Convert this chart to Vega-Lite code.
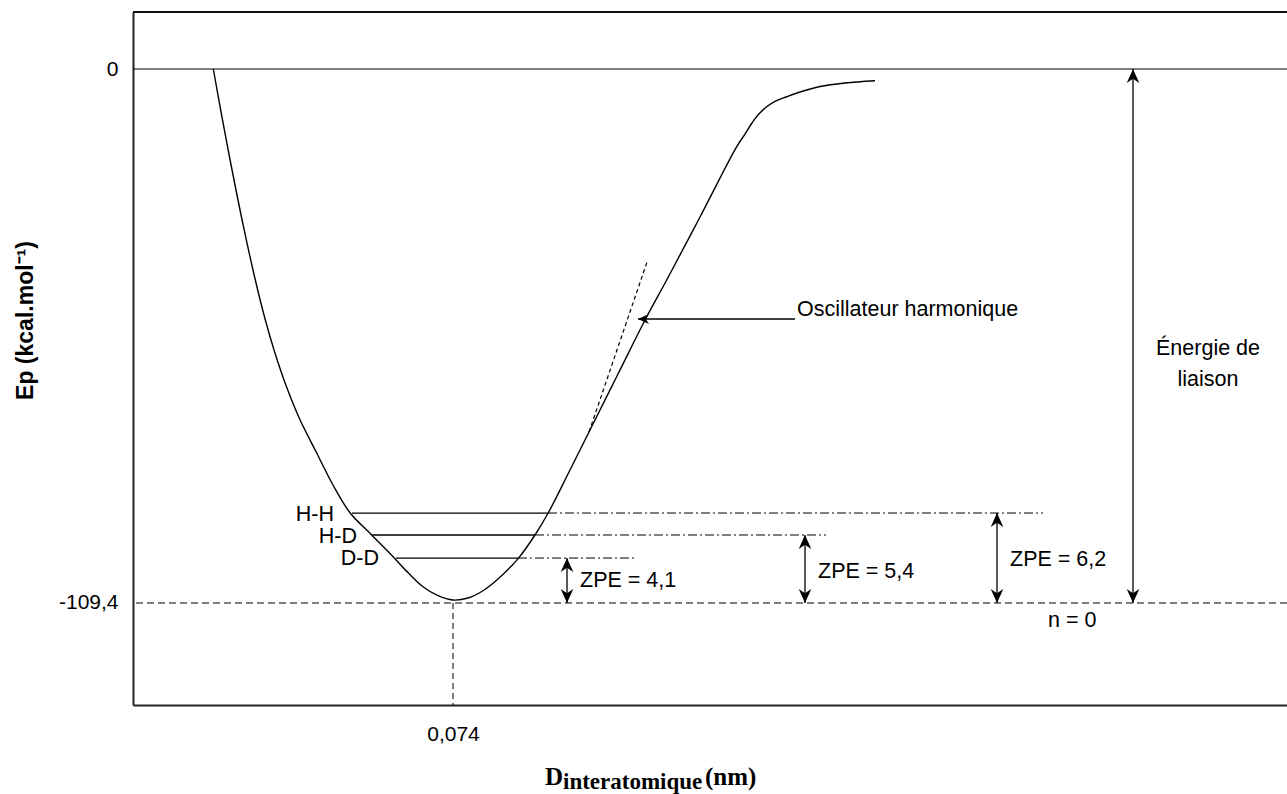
{
  "$schema": "https://vega.github.io/schema/vega-lite/v6.json",
  "autosize": "none",
  "padding": {"left": 133, "top": 12, "right": 0, "bottom": 89},
  "width": 1154,
  "height": 693,
  "background": "white",
  "config": {
    "view": {"stroke": null},
    "font": "Liberation Sans",
    "axis": {"ticks": false, "grid": false, "domainColor": "#222", "domainWidth": 2, "labelFont": "Liberation Sans", "labelFontSize": 21, "labelColor": "#000", "titleColor": "#000"}
  },
  "layer": [
    {
      "data": {"values": [
        {"x": 0.018569, "y": 0}, {"x": 0.020489, "y": -9.424}, {"x": 0.022454, "y": -18.644}, {"x": 0.025553, "y": -32.31},
        {"x": 0.028259, "y": -43.13}, {"x": 0.030571, "y": -51.32}, {"x": 0.032791, "y": -58.08}, {"x": 0.035473, "y": -65.05},
        {"x": 0.038594, "y": -71.81}, {"x": 0.042481, "y": -78.67}, {"x": 0.046250, "y": -85.23}, {"x": 0.050181, "y": -90.91},
        {"x": 0.055199, "y": -95.47}, {"x": 0.060356, "y": -100.12}, {"x": 0.063594, "y": -103.17}, {"x": 0.067063, "y": -106.07},
        {"x": 0.070531, "y": -107.91}, {"x": 0.074, "y": -108.79}, {"x": 0.077469, "y": -108.38}, {"x": 0.080938, "y": -106.89},
        {"x": 0.084406, "y": -104.50}, {"x": 0.089101, "y": -100.25}, {"x": 0.092963, "y": -95.47}, {"x": 0.096038, "y": -90.91},
        {"x": 0.100594, "y": -82.98}, {"x": 0.105681, "y": -73.96}, {"x": 0.112156, "y": -62.49}, {"x": 0.118793, "y": -50.75},
        {"x": 0.123418, "y": -43.23}, {"x": 0.131119, "y": -30.32}, {"x": 0.139606, "y": -15.92}, {"x": 0.141519, "y": -13.32},
        {"x": 0.143138, "y": -11.06}, {"x": 0.144525, "y": -9.43}, {"x": 0.146543, "y": -7.72}, {"x": 0.148463, "y": -6.62},
        {"x": 0.151168, "y": -5.68}, {"x": 0.154244, "y": -4.71}, {"x": 0.158869, "y": -3.59}, {"x": 0.164650, "y": -2.87},
        {"x": 0.171588, "y": -2.40}
      ]},
      "mark": {"type": "line", "interpolate": "catmull-rom", "color": "#000", "strokeWidth": 1.4},
      "encoding": {
        "x": {"field": "x", "type": "quantitative",
          "scale": {"domain": [0, 0.26686], "nice": false, "zero": false},
          "axis": {"values": [0.074], "labelExpr": "'0,074'", "title": null, "labelPadding": 18}},
        "y": {"field": "y", "type": "quantitative",
          "scale": {"domain": [-130.30, 11.678], "nice": false, "zero": false},
          "axis": {"values": [0, -109.4], "labelExpr": "datum.value == 0 ? '0' : '-109,4'", "labelPadding": 15,
            "title": "Ep (kcal.mol⁻¹)", "titleFont": "Liberation Sans", "titleFontWeight": "bold", "titleFontSize": 23,
            "titleX": -108, "titleY": 308, "titleAngle": -90, "titleAlign": "center", "titleBaseline": "middle"}}
      }
    },
    {
      "data": {"values": [{"x": 0.10545, "y": -74.37}, {"x": 0.118863, "y": -39.54}]},
      "mark": {"type": "line", "color": "#000", "strokeWidth": 1.2, "strokeDash": [4, 3]},
      "encoding": {"x": {"field": "x", "type": "quantitative"}, "y": {"field": "y", "type": "quantitative"}}
    },
    {
      "data": {"values": [
        {"level": "H-H", "x": 0.050644, "x2": 0.095969, "y": -90.97},
        {"level": "H-D", "x": 0.055269, "x2": 0.092963, "y": -95.47},
        {"level": "D-D", "x": 0.060819, "x2": 0.089031, "y": -100.19}
      ]},
      "mark": {"type": "rule", "color": "#000", "strokeWidth": 1.3},
      "encoding": {"x": {"field": "x", "type": "quantitative"}, "x2": {"field": "x2"}, "y": {"field": "y", "type": "quantitative"}}
    },
    {
      "data": {"values": [
        {"level": "H-H", "x": 0.095969, "x2": 0.210438, "y": -90.97},
        {"level": "H-D", "x": 0.092963, "x2": 0.160256, "y": -95.47},
        {"level": "D-D", "x": 0.089031, "x2": 0.116319, "y": -100.19}
      ]},
      "mark": {"type": "rule", "color": "#000", "strokeWidth": 1, "strokeDash": [9, 3, 2, 3]},
      "encoding": {"x": {"field": "x", "type": "quantitative"}, "x2": {"field": "x2"}, "y": {"field": "y", "type": "quantitative"}}
    },
    {
      "data": {"values": [{"y": -109.4}]},
      "mark": {"type": "rule", "color": "#000", "strokeWidth": 1, "strokeDash": [7, 4]},
      "encoding": {"y": {"field": "y", "type": "quantitative"}}
    },
    {
      "data": {"values": [{"x": 0.074, "y": -109.4, "y2": -130.30}]},
      "mark": {"type": "rule", "color": "#000", "strokeWidth": 1, "strokeDash": [6, 4]},
      "encoding": {"x": {"field": "x", "type": "quantitative"}, "y": {"field": "y", "type": "quantitative"}, "y2": {"field": "y2"}}
    },
    {
      "data": {"values": [{"line": "zero", "y": 0}]},
      "mark": {"type": "rule", "color": "#000", "strokeWidth": 1.1},
      "encoding": {"y": {"field": "y", "type": "quantitative"}}
    },
    {
      "data": {"values": [{"line": "frame", "y": 11.678}]},
      "mark": {"type": "rule", "color": "#111", "strokeWidth": 2},
      "encoding": {"y": {"field": "y", "type": "quantitative"}}
    },
    {
      "data": {"values": [
        {"name": "ZPE 4,1", "x": 0.100363, "y": -100.19, "y2": -109.4},
        {"name": "ZPE 5,4", "x": 0.1554, "y": -95.47, "y2": -109.4},
        {"name": "ZPE 6,2", "x": 0.1998, "y": -90.97, "y2": -109.4},
        {"name": "liaison", "x": 0.23125, "y": 0, "y2": -109.4}
      ]},
      "mark": {"type": "rule", "color": "#000", "strokeWidth": 1.3},
      "encoding": {"x": {"field": "x", "type": "quantitative"}, "y": {"field": "y", "type": "quantitative"}, "y2": {"field": "y2"}}
    },
    {
      "data": {"values": [{"x": 0.116781, "x2": 0.153088, "y": -51.22}]},
      "mark": {"type": "rule", "color": "#000", "strokeWidth": 1.3},
      "encoding": {"x": {"field": "x", "type": "quantitative"}, "x2": {"field": "x2"}, "y": {"field": "y", "type": "quantitative"}}
    },
    {
      "data": {"values": [
        {"x": 0.100363, "y": -100.19, "dir": "up"}, {"x": 0.100363, "y": -109.4, "dir": "down"},
        {"x": 0.1554, "y": -95.47, "dir": "up"}, {"x": 0.1554, "y": -109.4, "dir": "down"},
        {"x": 0.1998, "y": -90.97, "dir": "up"}, {"x": 0.1998, "y": -109.4, "dir": "down"},
        {"x": 0.23125, "y": 0, "dir": "up"}, {"x": 0.23125, "y": -109.4, "dir": "down"}
      ]},
      "mark": {"type": "point", "filled": true, "color": "#000", "opacity": 1, "size": 784, "strokeWidth": 0},
      "encoding": {
        "x": {"field": "x", "type": "quantitative"},
        "y": {"field": "y", "type": "quantitative"},
        "shape": {"field": "dir", "type": "nominal", "legend": null,
          "scale": {"domain": ["up", "down"], "range": ["M0,0L0.45,1L0,0.7L-0.45,1Z", "M0,0L0.45,-1L0,-0.7L-0.45,-1Z"]}}
      }
    },
    {
      "data": {"values": [{"x": 0.116781, "y": -51.22}]},
      "mark": {"type": "point", "filled": true, "color": "#000", "opacity": 1, "size": 484, "strokeWidth": 0, "shape": "M0,0L1,0.45L0.7,0L1,-0.45Z"},
      "encoding": {"x": {"field": "x", "type": "quantitative"}, "y": {"field": "y", "type": "quantitative"}}
    },
    {
      "data": {"values": [
        {"label": "ZPE = 4,1", "x": 0.103369, "y": -104.90},
        {"label": "ZPE = 5,4", "x": 0.158406, "y": -103.05},
        {"label": "ZPE = 6,2", "x": 0.202806, "y": -100.60},
        {"label": "n = 0", "x": 0.211594, "y": -113.09},
        {"label": "Oscillateur harmonique", "x": 0.15355, "y": -49.38}
      ]},
      "mark": {"type": "text", "align": "left", "baseline": "middle", "font": "Liberation Sans", "fontSize": 21.5, "color": "#000"},
      "encoding": {"x": {"field": "x", "type": "quantitative"}, "y": {"field": "y", "type": "quantitative"}, "text": {"field": "label"}}
    },
    {
      "data": {"values": [
        {"label": "H-H", "x": 0.046481, "y": -91.38},
        {"label": "H-D", "x": 0.0518, "y": -95.78},
        {"label": "D-D", "x": 0.056888, "y": -100.39}
      ]},
      "mark": {"type": "text", "align": "right", "baseline": "middle", "font": "Liberation Sans", "fontSize": 21.5, "color": "#000"},
      "encoding": {"x": {"field": "x", "type": "quantitative"}, "y": {"field": "y", "type": "quantitative"}, "text": {"field": "label"}}
    },
    {
      "data": {"values": [
        {"label": "Énergie de", "x": 0.248594, "y": -57.37},
        {"label": "liaison", "x": 0.248594, "y": -63.72}
      ]},
      "mark": {"type": "text", "align": "center", "baseline": "middle", "font": "Liberation Sans", "fontSize": 21.5, "color": "#000"},
      "encoding": {"x": {"field": "x", "type": "quantitative"}, "y": {"field": "y", "type": "quantitative"}, "text": {"field": "label"}}
    },
    {
      "data": {"values": [
        {"label": "D", "x": 0.095275, "y": -146.69},
        {"label": "(nm)", "x": 0.132275, "y": -146.69}
      ]},
      "mark": {"type": "text", "align": "left", "baseline": "alphabetic", "font": "Liberation Serif", "fontWeight": "bold", "fontSize": 25, "color": "#000"},
      "encoding": {"x": {"field": "x", "type": "quantitative"}, "y": {"field": "y", "type": "quantitative"}, "text": {"field": "label"}}
    },
    {
      "data": {"values": [{"label": "interatomique", "x": 0.099438, "y": -147.51}]},
      "mark": {"type": "text", "align": "left", "baseline": "alphabetic", "font": "Liberation Serif", "fontWeight": "bold", "fontSize": 23, "color": "#000"},
      "encoding": {"x": {"field": "x", "type": "quantitative"}, "y": {"field": "y", "type": "quantitative"}, "text": {"field": "label"}}
    }
  ]
}
